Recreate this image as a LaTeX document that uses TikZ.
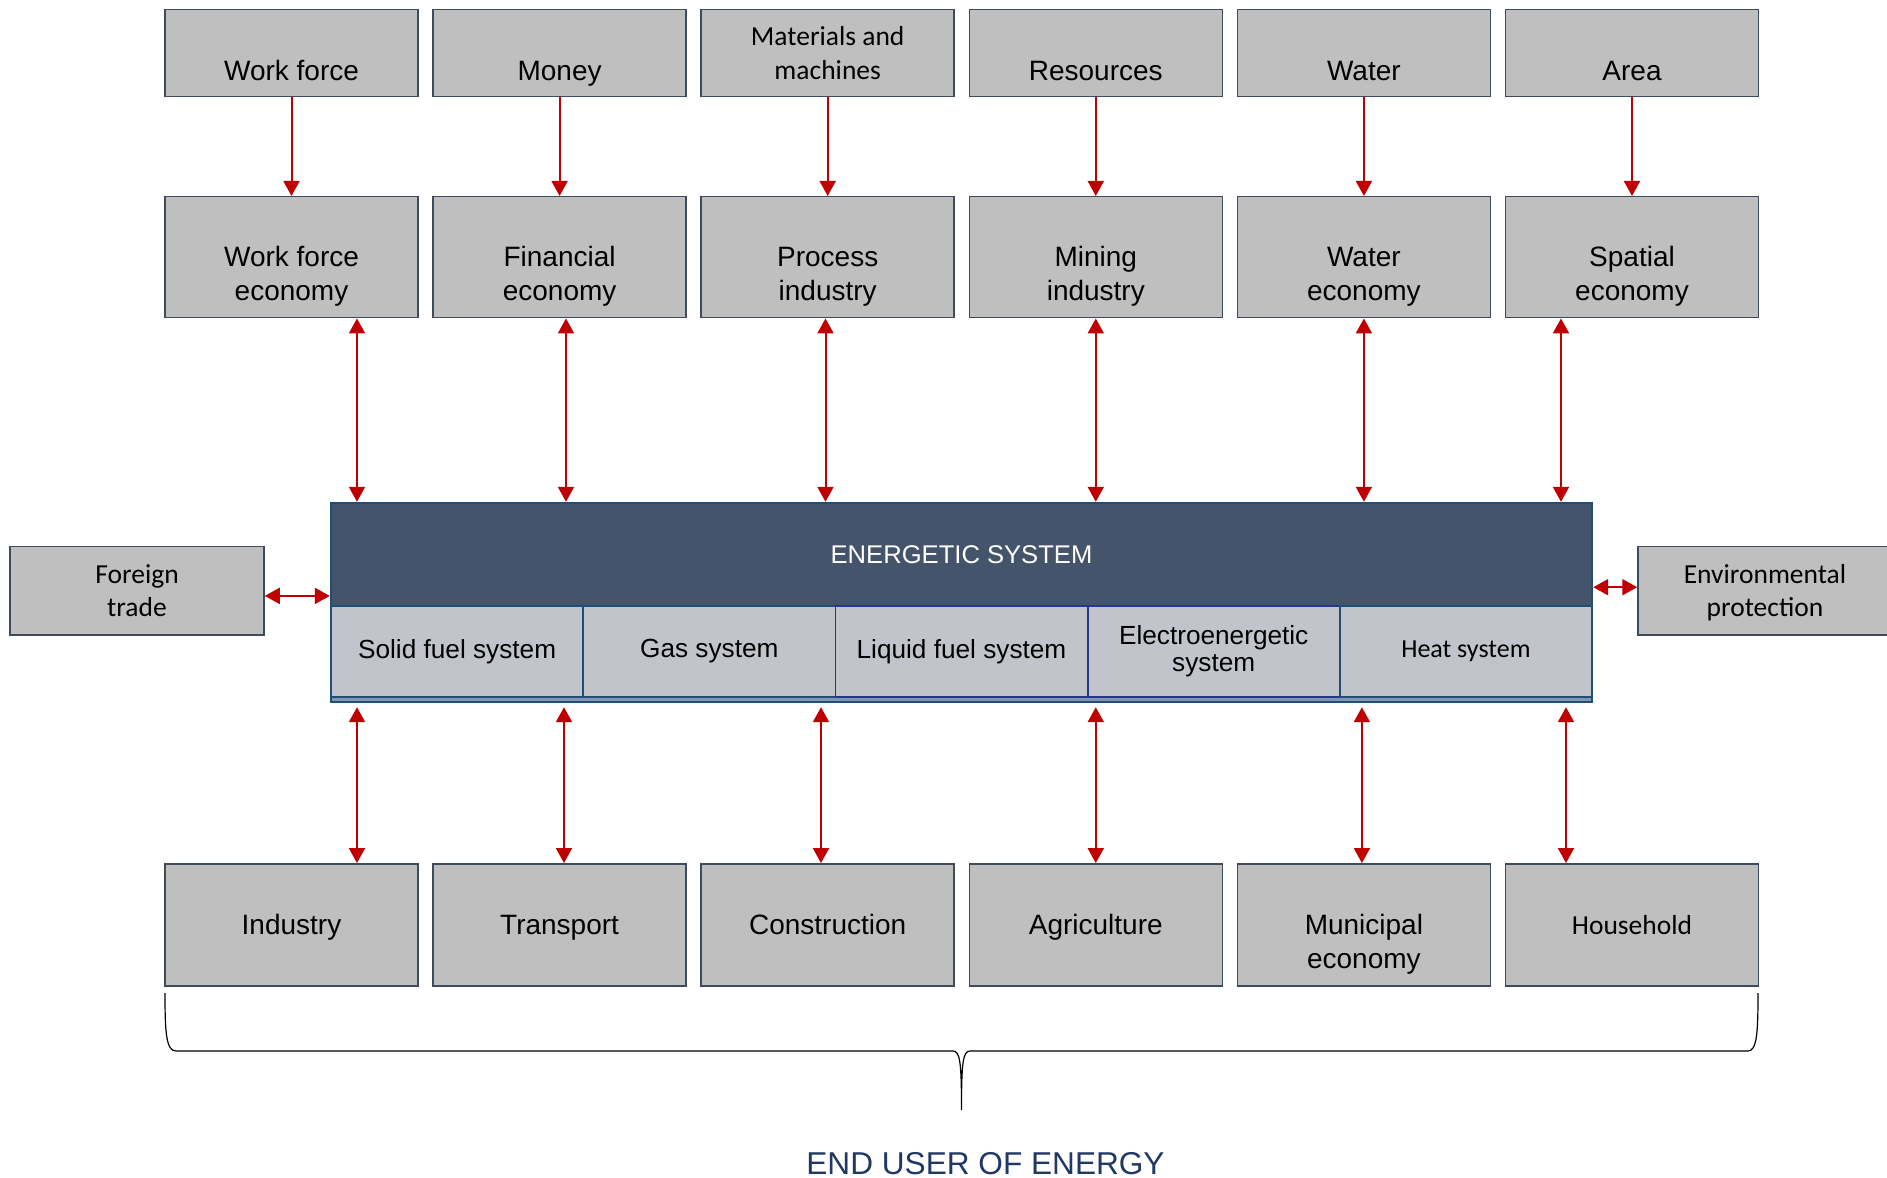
\documentclass[tikz,border=0pt]{standalone}
\usepackage{fontspec}
\setmainfont{Liberation Sans}
\newfontfamily\calibri{Carlito}
\usetikzlibrary{arrows.meta}
\definecolor{boxfill}{HTML}{BFBFBF}
\definecolor{boxline}{HTML}{3F4A5C}
\definecolor{eshead}{HTML}{44546A}
\definecolor{esline}{HTML}{1F4E79}
\definecolor{esline2}{HTML}{22388C}
\definecolor{esstrip}{HTML}{8496B0}
\definecolor{subfill}{HTML}{C1C4CA}
\definecolor{arrred}{HTML}{C00000}
\definecolor{endusr}{HTML}{1F3864}
\begin{document}
\begin{tikzpicture}[x=0.5pt, y=-0.5pt,
		box/.style={draw=boxline, fill=boxfill, line width=0.75pt, inner sep=0pt, minimum width=126.5pt},
		toprow/.style={box, minimum height=43.5pt},
		midrow/.style={box, minimum height=60.5pt},
		lowrow/.style={box, minimum height=61pt},
		lbl/.style={anchor=base, align=center, font=\fontsize{14}{17}\selectfont},
		cal/.style={anchor=base, align=center, font=\calibri\fontsize{13.75}{16.75}\selectfont},
		subsys/.style={draw=esline, fill=subfill, line width=0.9pt, inner sep=0pt, minimum width=126.1pt, minimum height=45.5pt, align=center, font=\fontsize{13.1}{13.6}\selectfont},
		flow/.style={draw=arrred, line width=1pt, -{Triangle[length=7.5pt,width=8pt]}},
		both/.style={flow, {Triangle[length=7.5pt,width=8pt]}-{Triangle[length=7.5pt,width=8pt]}}
	]
	\useasboundingbox (0,0) rectangle (1887,1178);
	\def\rowone{53.2}
	\def\rowtwo{257.2}
	\def\rowthree{924.8}
	% inputs
	\node[toprow] (wforce) at (291.5,\rowone) {};
	\node[lbl] (wforce-l) at (291.5,80) {Work force};
	\node[toprow] (money) at (559.6,\rowone) {};
	\node[lbl] (money-l) at (559.6,80) {Money};
	\node[toprow] (mater) at (827.7,\rowone) {};
	\node[cal] (mater-l) at (827.7,79) {Materials and\\machines};
	\node[toprow] (resou) at (1095.8,\rowone) {};
	\node[lbl] (resou-l) at (1095.8,80) {Resources};
	\node[toprow] (water) at (1363.9,\rowone) {};
	\node[lbl] (water-l) at (1363.9,80) {Water};
	\node[toprow] (area) at (1632,\rowone) {};
	\node[lbl] (area-l) at (1632,80) {Area};
	% economies
	\node[midrow] (wfecon) at (291.5,\rowtwo) {};
	\node[lbl] (wfecon-l) at (291.5,300) {Work force\\economy};
	\node[midrow] (finecon) at (559.6,\rowtwo) {};
	\node[lbl] (finecon-l) at (559.6,300) {Financial\\economy};
	\node[midrow] (procind) at (827.7,\rowtwo) {};
	\node[lbl] (procind-l) at (827.7,300) {Process\\industry};
	\node[midrow] (minind) at (1095.8,\rowtwo) {};
	\node[lbl] (minind-l) at (1095.8,300) {Mining\\industry};
	\node[midrow] (watecon) at (1363.9,\rowtwo) {};
	\node[lbl] (watecon-l) at (1363.9,300) {Water\\economy};
	\node[midrow] (spatecon) at (1632,\rowtwo) {};
	\node[lbl] (spatecon-l) at (1632,300) {Spatial\\economy};
	% end users
	\node[lowrow] (industry) at (291.5,\rowthree) {};
	\node[lbl] (industry-l) at (291.5,934.5) {Industry};
	\node[lowrow] (transport) at (559.6,\rowthree) {};
	\node[lbl] (transport-l) at (559.6,934.5) {Transport};
	\node[lowrow] (constr) at (827.7,\rowthree) {};
	\node[lbl] (constr-l) at (827.7,934.5) {Construction};
	\node[lowrow] (agri) at (1095.8,\rowthree) {};
	\node[lbl] (agri-l) at (1095.8,934.5) {Agriculture};
	\node[lowrow] (munic) at (1363.9,\rowthree) {};
	\node[lbl] (munic-l) at (1363.9,968) {Municipal\\economy};
	\node[lowrow] (house) at (1632,\rowthree) {};
	\node[cal] (house-l) at (1632,934) {Household};
	% side boxes
	\node[box, minimum width=127pt, minimum height=44.2pt] (ftrade) at (137,590.9) {};
	\node[cal] (ftrade-l) at (137,616.7) {Foreign\\trade};
	\node[box, minimum width=127pt, minimum height=44.2pt] (envprot) at (1765,590.9) {};
	\node[cal] (envprot-l) at (1765,616.7) {Environmental\\protection};
	% energetic system
	\node[draw=esline, fill=esstrip, line width=1.2pt, inner sep=0pt, minimum width=630.5pt, minimum height=99.5pt] (es) at (961.5,602.5) {};
	\node[draw=esline, fill=eshead, line width=0.9pt, inner sep=0pt, minimum width=630.5pt, minimum height=51.5pt, text=white, font=\fontsize{12.8}{15}\selectfont] (eshead) at (961.5,554.5) {ENERGETIC SYSTEM};
	\node[subsys] (solid) at (457.1,651.5) {Solid fuel system};
	\node[subsys] (gas) at (709.3,651.5) {Gas system};
	\node[subsys, draw=esline2] (liquid) at (961.5,651.5) {Liquid fuel system};
	\node[subsys, draw=esline2] (electro) at (1213.7,651.5) {Electroenergetic\\system};
	\node[subsys, font=\calibri\fontsize{13}{15}\selectfont] (heat) at (1465.9,651.5) {Heat system};
	% flows
	\draw[flow] (wforce) -- (wfecon);
	\draw[flow] (money) -- (finecon);
	\draw[flow] (mater) -- (procind);
	\draw[flow] (resou) -- (minind);
	\draw[flow] (water) -- (watecon);
	\draw[flow] (area) -- (spatecon);
	\draw[both] ([xshift=32.75pt]wfecon.south) -- ([xshift=32.75pt]wfecon.south |- es.north);
	\draw[both] ([xshift=3.2pt]finecon.south) -- ([xshift=3.2pt]finecon.south |- es.north);
	\draw[both] ([xshift=-1.1pt]procind.south) -- ([xshift=-1.1pt]procind.south |- es.north);
	\draw[both] (minind.south) -- (minind.south |- es.north);
	\draw[both] (watecon.south) -- (watecon.south |- es.north);
	\draw[both] ([xshift=-35.5pt]spatecon.south) -- ([xshift=-35.5pt]spatecon.south |- es.north);
	\draw[both, shorten >=2pt] ([xshift=32.75pt]industry.north) -- ([xshift=32.75pt]industry.north |- es.south);
	\draw[both, shorten >=2pt] ([xshift=2.2pt]transport.north) -- ([xshift=2.2pt]transport.north |- es.south);
	\draw[both, shorten >=2pt] ([xshift=-3.35pt]constr.north) -- ([xshift=-3.35pt]constr.north |- es.south);
	\draw[both, shorten >=2pt] (agri.north) -- (agri.north |- es.south);
	\draw[both, shorten >=2pt] ([xshift=-1pt]munic.north) -- ([xshift=-1pt]munic.north |- es.south);
	\draw[both, shorten >=2pt] ([xshift=-33pt]house.north) -- ([xshift=-33pt]house.north |- es.south);
	\draw[both] ([yshift=-2.5pt]ftrade.east) -- ([yshift=-2.5pt]ftrade.east -| es.west);
	\draw[both] ([yshift=1.85pt]envprot.west) -- ([yshift=1.85pt]envprot.west -| es.east);
	% brace under the end users
	\draw[line width=0.6pt] (165,993) .. controls (165,1032) and (166,1051) .. (176,1051) -- (953,1051)
		.. controls (960,1051) and (961.5,1062) .. (961.5,1110)
		.. controls (961.5,1062) and (963,1051) .. (970,1051) -- (1748,1051)
		.. controls (1757,1051) and (1758,1032) .. (1758,993);
	\node[anchor=base, text=endusr, font=\fontsize{15.8}{19}\selectfont] (enduser) at (985.5,1174.3) {END USER OF ENERGY};
\end{tikzpicture}
\end{document}
